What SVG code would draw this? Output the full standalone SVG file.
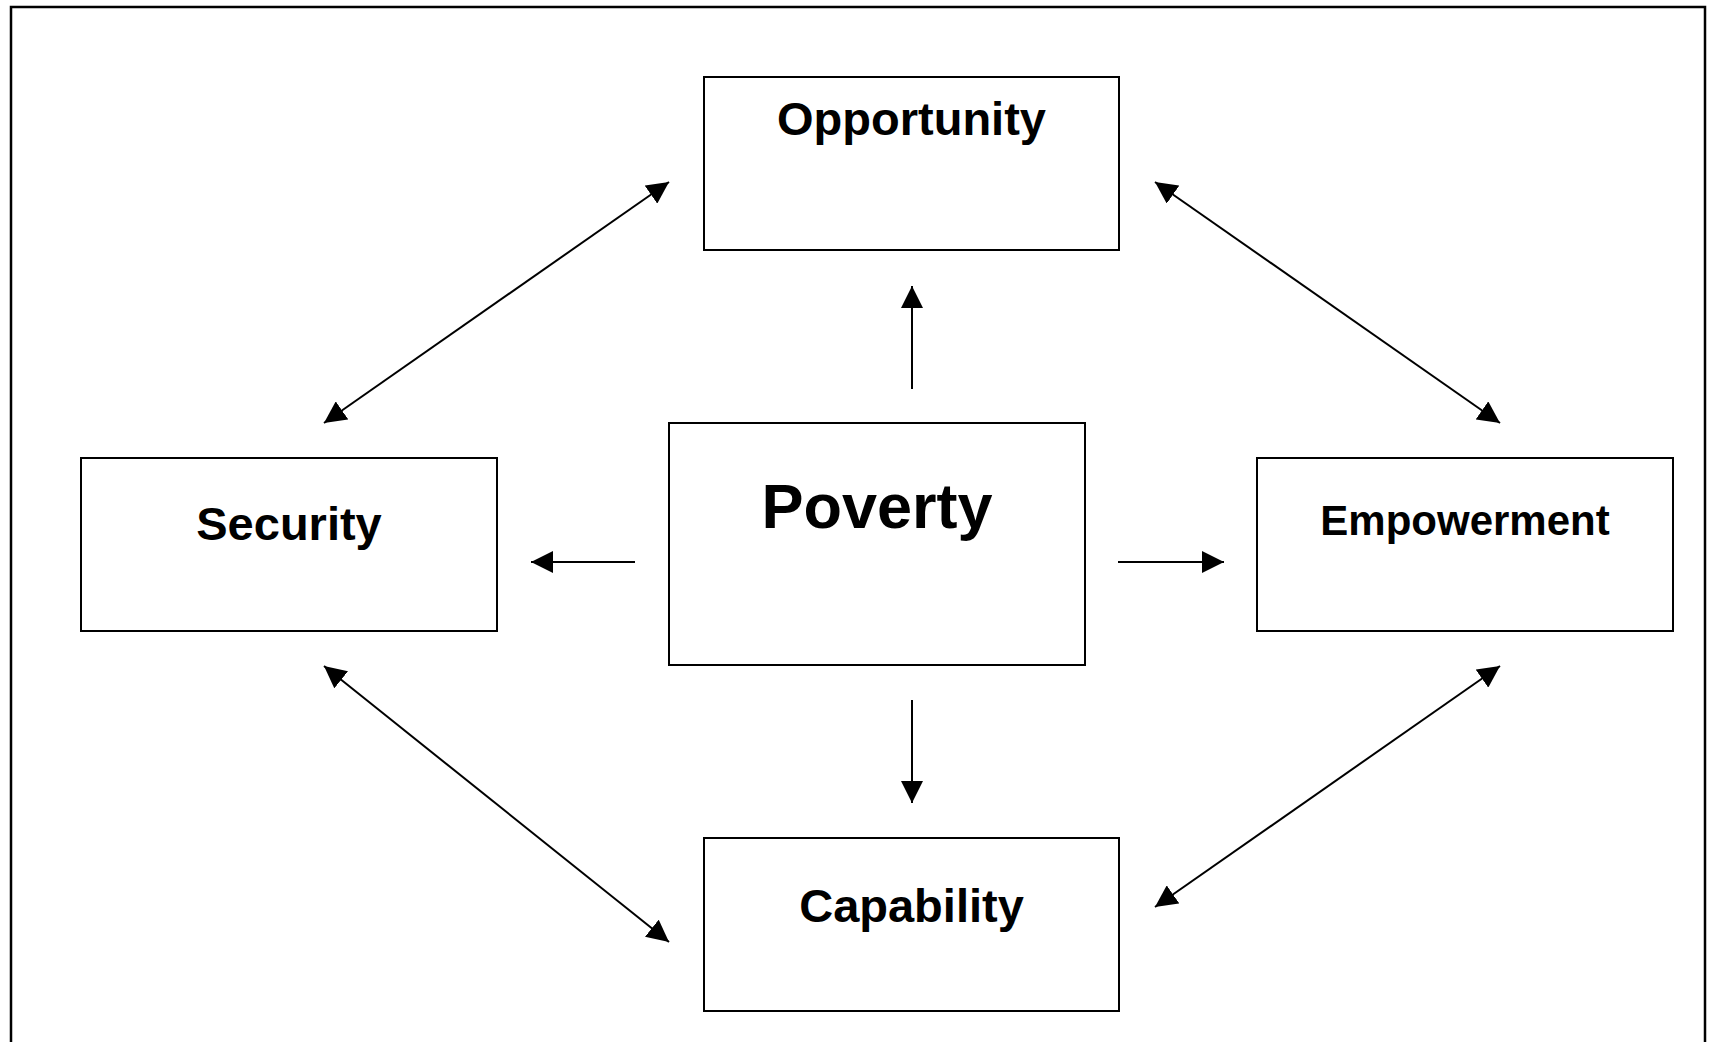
<svg xmlns="http://www.w3.org/2000/svg" width="1710" height="1042" viewBox="0 0 1710 1042">
  <style>
    .box { fill: #ffffff; stroke: #000000; stroke-width: 2; }
    .label { font-family: "Liberation Sans", Arial, sans-serif; font-weight: bold; fill: #000000; text-anchor: middle; }
    .link { stroke: #000000; stroke-width: 2; fill: none; }
    .one { marker-end: url(#head); }
    .both { marker-start: url(#head); marker-end: url(#head); }
  </style>
  <defs>
    <marker id="head" viewBox="0 0 22 22" refX="22" refY="11" markerWidth="22" markerHeight="22" markerUnits="userSpaceOnUse" orient="auto-start-reverse">
      <path d="M0,0 L22,11 L0,22 Z" fill="#000000"/>
    </marker>
  </defs>

  <rect width="1710" height="1042" fill="#ffffff"/>
  <!-- outer frame -->
  <rect x="11" y="7" width="1694" height="1060" fill="none" stroke="#000000" stroke-width="2.5"/>

  <g id="connectors">
    <line class="link both" x1="669" y1="182" x2="324" y2="423"/>
    <line class="link both" x1="1155" y1="182" x2="1500" y2="423"/>
    <line class="link both" x1="324" y1="666" x2="669" y2="942"/>
    <line class="link both" x1="1500" y1="666" x2="1155" y2="907"/>
    <line class="link one" x1="912" y1="389" x2="912" y2="286"/>
    <line class="link one" x1="635" y1="562" x2="531" y2="562"/>
    <line class="link one" x1="1118" y1="562" x2="1224" y2="562"/>
    <line class="link one" x1="912" y1="700" x2="912" y2="803"/>
  </g>

  <g id="opportunity">
    <rect class="box" x="704" y="77" width="415" height="173"/>
    <text class="label" x="911.5" y="135" font-size="47">Opportunity</text>
  </g>

  <g id="poverty">
    <rect class="box" x="669" y="423" width="416" height="242"/>
    <text class="label" x="877" y="528" font-size="63">Poverty</text>
  </g>

  <g id="security">
    <rect class="box" x="81" y="458" width="416" height="173"/>
    <text class="label" x="289" y="540" font-size="47">Security</text>
  </g>

  <g id="empowerment">
    <rect class="box" x="1257" y="458" width="416" height="173"/>
    <text class="label" x="1465" y="535" font-size="42">Empowerment</text>
  </g>

  <g id="capability">
    <rect class="box" x="704" y="838" width="415" height="173"/>
    <text class="label" x="911.5" y="922" font-size="47">Capability</text>
  </g>
</svg>
